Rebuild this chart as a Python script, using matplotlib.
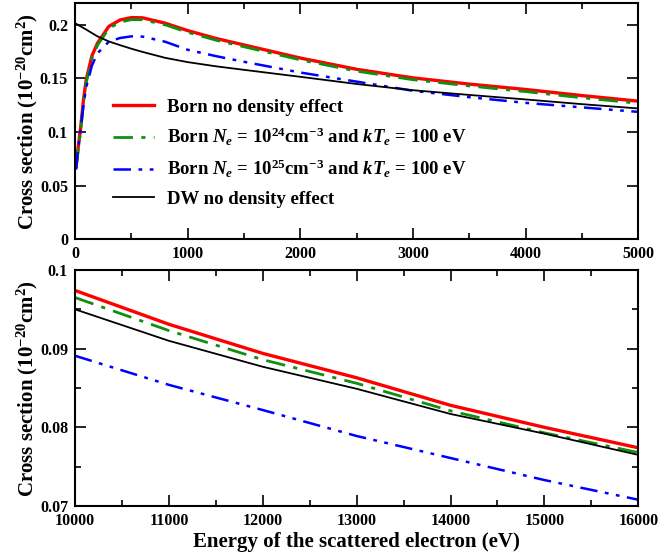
import matplotlib
matplotlib.use("Agg")
import matplotlib.pyplot as plt
from matplotlib.ticker import MultipleLocator

# --- data ---
x_top = [10, 25, 50, 75, 100, 150, 200, 300, 400, 500, 600, 800, 1000,
         1250, 1500, 2000, 2500, 3000, 3500, 4000, 4500, 5000]
born_top = [0.068, 0.083, 0.104, 0.130, 0.149, 0.171, 0.183, 0.1985, 0.2045, 0.2067, 0.2065,
            0.2015, 0.1946, 0.1873, 0.1812, 0.169, 0.1585, 0.1505, 0.1447, 0.1397, 0.134, 0.1288]
born24_top = [0.067, 0.080, 0.101, 0.127, 0.146, 0.169, 0.181, 0.1965, 0.2025, 0.2048, 0.2047,
              0.200, 0.193, 0.1857, 0.1795, 0.1673, 0.1568, 0.1488, 0.143, 0.1377, 0.132, 0.1268]
born25_top = [0.065, 0.082, 0.103, 0.125, 0.142, 0.162, 0.1735, 0.1842, 0.1877, 0.1892, 0.1890,
              0.1842, 0.1767, 0.1708, 0.1655, 0.1555, 0.147, 0.1385, 0.1325, 0.1272, 0.123, 0.1188]
dw_top = [0.201, 0.200, 0.1985, 0.197, 0.1955, 0.1923, 0.1892, 0.1845, 0.1810, 0.1777, 0.1747,
          0.1692, 0.1652, 0.1613, 0.158, 0.1515, 0.1448, 0.139, 0.1346, 0.1304, 0.126, 0.122]

x_bot = [10000, 11000, 12000, 13000, 14000, 15000, 16000]
born_bot = [0.0974, 0.0931, 0.0894, 0.0863, 0.0828, 0.0800, 0.0774]
born24_bot = [0.0965, 0.0923, 0.0886, 0.0856, 0.0821, 0.0793, 0.0768]
born25_bot = [0.0891, 0.0854, 0.0822, 0.0789, 0.0761, 0.0733, 0.0708]
dw_bot = [0.0950, 0.0910, 0.0877, 0.0849, 0.0817, 0.0792, 0.0765]

labels = [
    "Born no density effect",
    r"Born $N_e$ = 10$^{24}$cm$^{-3}$ and $kT_e$ = 100 eV",
    r"Born $N_e$ = 10$^{25}$cm$^{-3}$ and $kT_e$ = 100 eV",
    "DW no density effect",
]

RED = "#ff0000"
GREEN = "#109010"
BLUE = "#0000ff"
BLACK = "#000000"

plt.rcParams["font.family"] = ["Liberation Serif", "DejaVu Serif"]
plt.rcParams["font.weight"] = "bold"
plt.rcParams["mathtext.fontset"] = "custom"
plt.rcParams["mathtext.rm"] = "Liberation Serif:bold"
plt.rcParams["mathtext.it"] = "Liberation Serif:italic:bold"
plt.rcParams["mathtext.bf"] = "Liberation Serif:bold"
plt.rcParams["axes.linewidth"] = 1.5

styles = [
    dict(color=RED, lw=2.4, ls="-"),
    dict(color=GREEN, lw=2.0, dashes=(7, 3, 1.5, 3)),
    dict(color=BLUE, lw=1.8, dashes=(7, 3, 1.5, 3, 1.5, 3)),
    dict(color=BLACK, lw=1.3, ls="-"),
]

fig = plt.figure(figsize=(6.58, 5.56), dpi=100)
ax1 = fig.add_axes([0.114, 0.5696, 0.856, 0.4244])
ax2 = fig.add_axes([0.114, 0.0899, 0.856, 0.4245])

for ys, st, lab in zip([born_top, born24_top, born25_top, dw_top], styles, labels):
    ax1.plot(x_top, ys, label=lab, **st)
for ys, st in zip([born_bot, born24_bot, born25_bot, dw_bot], styles):
    ax2.plot(x_bot, ys, **st)

ax1.set_xlim(0, 5000)
ax1.set_ylim(0, 0.22)
ax1.xaxis.set_major_locator(MultipleLocator(1000))
ax1.xaxis.set_minor_locator(MultipleLocator(500))
ax1.set_yticks([0, 0.05, 0.1, 0.15, 0.2])
ax1.set_yticklabels(["0", "0.05", "0.1", "0.15", "0.2"])

ax2.set_xlim(10000, 16000)
ax2.set_ylim(0.07, 0.1)
ax2.xaxis.set_major_locator(MultipleLocator(1000))
ax2.xaxis.set_minor_locator(MultipleLocator(500))
ax2.set_yticks([0.07, 0.08, 0.09, 0.1])
ax2.set_yticklabels(["0.07", "0.08", "0.09", "0.1"])
ax2.yaxis.set_minor_locator(MultipleLocator(0.005))

for ax in (ax1, ax2):
    ax.tick_params(which="both", direction="in", top=True, right=True,
                   labelsize=11.5, width=1.2, pad=5)
    ax.tick_params(which="major", length=8)
    ax.tick_params(which="minor", length=4.5)
    ax.set_ylabel(r"Cross section (10$^{-20}$cm$^{2}$)", fontsize=15, fontweight="bold")
    ax.yaxis.set_label_coords(-0.063, 0.5)

ax2.set_xlabel("Energy of the scattered electron (eV)", fontsize=15, fontweight="bold", labelpad=2)

ax1.legend(loc="upper left", bbox_to_anchor=(0.067, 0.595), frameon=False,
           fontsize=13.5, handlelength=2.2, handletextpad=0.7,
           labelspacing=0.54, borderpad=0, borderaxespad=0)

fig.savefig("out.png", dpi=100)
